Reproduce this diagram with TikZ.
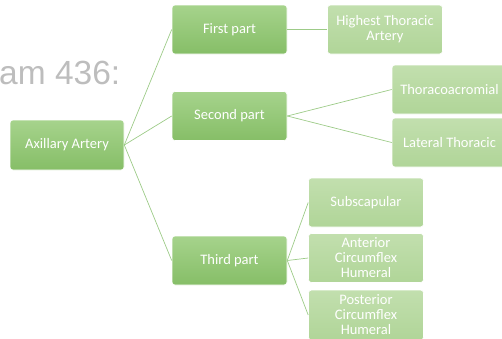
\documentclass[tikz,border=0pt]{standalone}
\usepackage{fontspec}
\setmainfont{Carlito}
\newfontfamily\titlefont{Liberation Sans}
\usepackage{xcolor}
\usetikzlibrary{positioning}
\definecolor{PartTop}{HTML}{A6D38C}
\definecolor{PartBottom}{HTML}{86BE67}
\definecolor{LeafTop}{HTML}{C2DFAE}
\definecolor{LeafBottom}{HTML}{B0D598}
\definecolor{LinkGreen}{HTML}{9DCB88}
\definecolor{TitleGray}{HTML}{BDBDBD}
\tikzset{
  partbox/.style={
    draw=white,
    line width=0.6pt,
    rounded corners=3pt,
    align=center,
    text=white,
    font=\fontsize{14.5}{15}\selectfont,
    minimum width=115pt,
    minimum height=49pt,
    inner sep=2pt,
    top color=PartTop,
    bottom color=PartBottom
  },
  leafbox/.style={
    partbox,
    top color=LeafTop,
    bottom color=LeafBottom
  },
  link/.style={draw=LinkGreen, line width=0.7pt}
}

\begin{document}
\begin{tikzpicture}[x=1pt, y=-1pt]
\useasboundingbox (0,0) rectangle (502,338);
\clip (0,0) rectangle (502,338);
\node[anchor=west, text=TitleGray, font=\titlefont\fontsize{33.5}{33.5}\selectfont, inner sep=0pt] (title) at (-1,73) {am 436:};
\node[partbox, minimum width=114pt, minimum height=50pt] (axillary) at (67,145) {Axillary Artery};
\node[partbox] (first)  at (229.5,29.5) {First part};
\node[partbox] (second) at (229.5,116)  {Second part};
\node[partbox] (third)  at (229.5,260.5) {Third part};
\node[leafbox] (highest)   at (385,29.5)  {Highest Thoracic\\Artery};
\node[leafbox] (thoraco)   at (449.5,89.5) {Thoracoacromial};
\node[leafbox] (lateral)   at (449.5,142.5) {Lateral Thoracic};
\node[leafbox] (subscap)   at (366,202.5) {Subscapular};
\node[leafbox] (anterior)  at (366,258)   {Anterior\\Circumflex\\Humeral};
\node[leafbox, minimum height=50pt] (posterior) at (366,315) {Posterior\\Circumflex\\Humeral};
% Axillary -> parts
\draw[link] (axillary.east) -- (first.west);
\draw[link] (axillary.east) -- (second.west);
\draw[link] (axillary.east) -- (third.west);
% First part -> branch
\draw[link] (first.east) -- (highest.west);
% Second part -> branches
\draw[link] (second.east) -- (thoraco.west);
\draw[link] (second.east) -- (lateral.west);
% Third part -> branches
\draw[link] (third.east) -- (subscap.west);
\draw[link] (third.east) -- (anterior.west);
\draw[link] (third.east) -- (posterior.west);
\end{tikzpicture}
\end{document}
